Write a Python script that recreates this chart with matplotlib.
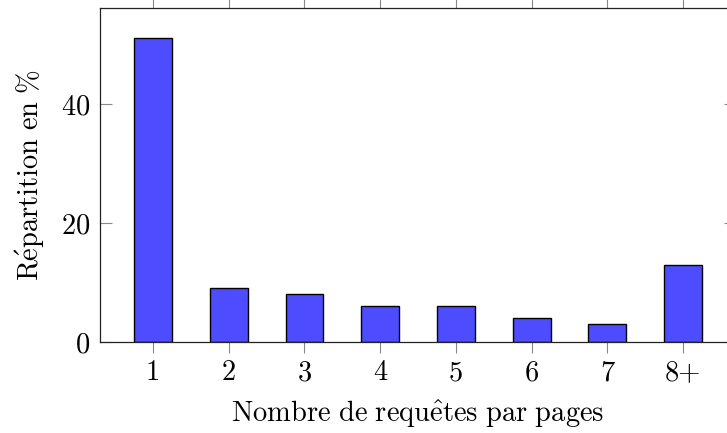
import matplotlib
matplotlib.use("Agg")
import matplotlib.pyplot as plt

categories = ["1", "2", "3", "4", "5", "6", "7", "8+"]
values = [51, 9, 8, 6, 6, 4, 3, 13]
yticks = [0, 20, 40]

plt.rcParams['font.family'] = ['cmr10', 'DejaVu Serif']
plt.rcParams['axes.formatter.use_mathtext'] = True
plt.rcParams['mathtext.fontset'] = 'cm'

W, H = 727, 433
fig = plt.figure(figsize=(W / 100, H / 100), dpi=100)
left, right, top, bottom = 100, 736, 8, 342
ax = fig.add_axes([left / W, 1 - bottom / H, (right - left) / W, (bottom - top) / H])

xs = list(range(1, len(categories) + 1))
ax.bar(xs, values, width=0.5, color=(77/255, 77/255, 1.0), edgecolor='black', linewidth=1.0)

ax.set_xlim(0.3, 8.7)
ax.set_ylim(0, 56.1)
ax.set_xticks(xs)
ax.set_xticklabels(categories)
ax.set_yticks(yticks)

fs = 20.5
ax.tick_params(axis='x', direction='out', top=True, bottom=True, length=8, width=0.8,
               color='#888888', labelsize=fs, pad=5)
ax.tick_params(axis='y', direction='in', left=True, right=True, length=8.5, width=0.8,
               color='#888888', labelsize=fs, pad=7)
for s in ax.spines.values():
    s.set_linewidth(0.9)
    s.set_color('#222222')

ax.set_xlabel(r'$\mathrm{Nombre\ de\ requ\hat{e}tes\ par\ pages}$', fontsize=fs, labelpad=8)
ax.set_ylabel(r'$\mathrm{R\acute{e}partition\ en\ \%}$', fontsize=fs, labelpad=10)

fig.savefig('out.png', dpi=100)
